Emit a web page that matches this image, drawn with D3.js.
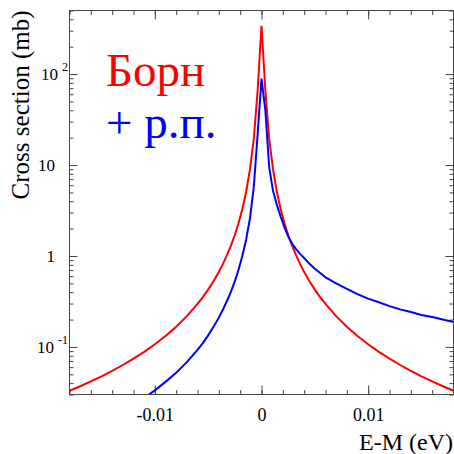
<!DOCTYPE html>
<meta charset="utf-8">
<style>
body { margin: 0; background: #fff; }
text { font-family: "Liberation Serif", "Times New Roman", serif; }
.axis path { display: none; }
.axis line { stroke: #444; }
</style>
<body>
<svg width="454" height="454"></svg>
<script src="https://cdn.jsdelivr.net/npm/d3@7/dist/d3.min.js"></script>
<script>
var energy = [-0.018, -0.017, -0.016, -0.015, -0.014, -0.013, -0.012, -0.011, -0.010, -0.009,
  -0.008, -0.007, -0.006, -0.0055, -0.005, -0.0045, -0.004, -0.0036, -0.00324, -0.00288,
  -0.00252, -0.00216, -0.0018, -0.00144, -0.00108, -0.00072, -0.00036, 0,
  0.00036, 0.00072, 0.00108, 0.00144, 0.0018, 0.00216, 0.00252, 0.00288, 0.00324, 0.0036,
  0.004, 0.0045, 0.005, 0.0055, 0.006, 0.007, 0.008, 0.009, 0.010, 0.011,
  0.012, 0.013, 0.014, 0.015, 0.016, 0.017, 0.018];

// Born cross section (mb), red
var born = [0.0330, 0.0370, 0.0418, 0.0475, 0.0546, 0.0633, 0.0743, 0.0884, 0.107, 0.132,
  0.167, 0.218, 0.297, 0.353, 0.427, 0.528, 0.667, 0.824, 1.02, 1.29,
  1.68, 2.28, 3.27, 5.08, 8.94, 19.5, 66.5, 340,
  66.5, 19.5, 8.94, 5.08, 3.27, 2.28, 1.68, 1.29, 1.02, 0.824,
  0.667, 0.528, 0.427, 0.353, 0.297, 0.218, 0.167, 0.132, 0.107, 0.0884,
  0.0743, 0.0633, 0.0546, 0.0475, 0.0418, 0.0370, 0.0330];

// with radiative corrections (mb), blue; null = below the plot
var withRC = [null, null, null, null, null, null, 0.0228, 0.0275, 0.0333, 0.0413,
  0.052, 0.068, 0.093, 0.110, 0.134, 0.167, 0.21, 0.26, 0.32, 0.40,
  0.52, 0.70, 1.0, 1.52, 2.6, 5.8, 22, 89,
  40, 9.5, 5.2, 3.65, 2.7, 2.05, 1.62, 1.36, 1.19, 1.06,
  0.95, 0.82, 0.723, 0.649, 0.582, 0.499, 0.435, 0.380, 0.340, 0.310,
  0.281, 0.259, 0.242, 0.225, 0.213, 0.200, 0.188];

var xMajor = [-0.01, 0, 0.01];
var xMinor = d3.range(-0.018, 0.0181, 0.002);
var yLabels = [
  {v: 0.1, base: "10", exp: "-1"},
  {v: 1, base: "1", exp: ""},
  {v: 10, base: "10", exp: ""},
  {v: 100, base: "10", exp: "2"}
];
var legendText = ["Борн", "+ р.п."];

// note: "top" is taken by window.top, so the frame edges get other names
var svg = d3.select("svg"),
    fL = 69.5, fR = 453.5, fT = 10.5, fB = 394.5;

var x = d3.scaleLinear().domain([-0.018, 0.018]).range([fL, fR]);
var y = d3.scaleLog().domain([0.03, 500]).range([fB, fT]);

// log minor ticks 2..9 in each decade
var yMinor = [];
[0.01, 0.1, 1, 10, 100].forEach(function(d) {
  for (var k = 2; k <= 9; k++) {
    var v = d * k;
    if (v >= 0.03 && v <= 500) yMinor.push(v);
  }
});
var yMajor = yLabels.map(function(d) { return d.v; });

svg.append("defs").append("clipPath").attr("id", "frame")
  .append("rect").attr("x", fL).attr("y", fT)
  .attr("width", fR - fL).attr("height", fB - fT);

// axes, ticks pointing inward on all four sides
function noLabel() { return ""; }
function addAxis(axis, tx, ty) {
  return svg.append("g").attr("class", "axis")
    .attr("transform", "translate(" + tx + "," + ty + ")")
    .call(axis);
}
addAxis(d3.axisBottom(x).tickValues(xMinor).tickSize(-4.5).tickFormat(noLabel), 0, fB);
var xb = addAxis(d3.axisBottom(x).tickValues(xMajor).tickSize(-9).tickPadding(14)
  .tickFormat(function(d) { return d === 0 ? "0" : String(d); }), 0, fB);
xb.selectAll("text").style("font-size", "18px").attr("fill", "#000");

addAxis(d3.axisTop(x).tickValues(xMinor).tickSize(-4.5).tickFormat(noLabel), 0, fT);
addAxis(d3.axisTop(x).tickValues(xMajor).tickSize(-9).tickFormat(noLabel), 0, fT);
addAxis(d3.axisLeft(y).tickValues(yMinor).tickSize(-4).tickFormat(noLabel), fL, 0);
addAxis(d3.axisLeft(y).tickValues(yMajor).tickSize(-8).tickFormat(noLabel), fL, 0);
addAxis(d3.axisRight(y).tickValues(yMinor).tickSize(-4).tickFormat(noLabel), fR, 0);
addAxis(d3.axisRight(y).tickValues(yMajor).tickSize(-8).tickFormat(noLabel), fR, 0);

// y labels like ROOT: 10 with raised exponent
var yl = svg.append("g").selectAll("text").data(yLabels).enter().append("text")
  .attr("x", function(d) { return d.exp ? 68 : 55; })
  .attr("y", function(d) { return y(d.v) + 6; })
  .attr("text-anchor", "end")
  .style("font-size", "17px");
yl.append("tspan").text(function(d) { return d.base; });
yl.filter(function(d) { return d.exp; }).append("tspan")
  .attr("dx", 4).attr("dy", -9).style("font-size", "12px")
  .text(function(d) { return d.exp; });

// curves
var line = d3.line()
  .defined(function(d) { return d[1] != null; })
  .x(function(d) { return x(d[0]); })
  .y(function(d) { return y(d[1]); });

var curves = svg.append("g").attr("clip-path", "url(#frame)");
curves.append("path")
  .attr("d", line(energy.map(function(e, i) { return [e, born[i]]; })))
  .attr("fill", "none").attr("stroke", "#ff0000").attr("stroke-width", 2);
curves.append("path")
  .attr("d", line(energy.map(function(e, i) { return [e, withRC[i]]; })))
  .attr("fill", "none").attr("stroke", "#0000ff").attr("stroke-width", 2);

// frame
svg.append("rect")
  .attr("x", fL).attr("y", fT)
  .attr("width", fR - fL).attr("height", fB - fT)
  .attr("fill", "none").attr("stroke", "#444");

// titles
svg.append("text")
  .attr("x", 453).attr("y", 450)
  .attr("text-anchor", "end")
  .style("font-size", "24px")
  .text("E-M (eV)");
svg.append("text")
  .attr("transform", "translate(29," + fT + ") rotate(-90)")
  .attr("text-anchor", "end")
  .style("font-size", "25px")
  .text("Cross section (mb)");

// legend
svg.append("text").attr("x", 106).attr("y", 86)
  .style("font-size", "47px").attr("fill", "#ff0000").text(legendText[0]);
svg.append("text").attr("x", 106).attr("y", 138)
  .style("font-size", "47px").attr("fill", "#0000ff").text(legendText[1]);
</script>
</body>
